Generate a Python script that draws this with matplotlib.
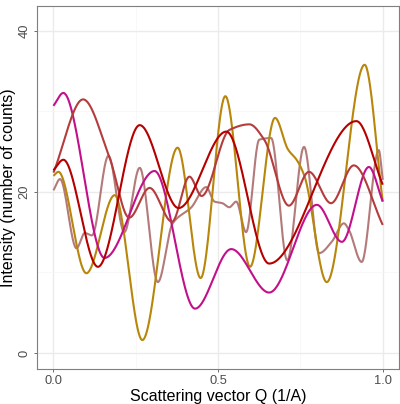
import matplotlib
matplotlib.use("Agg")
import matplotlib.pyplot as plt
import numpy as np

plt.rcParams["font.family"] = ["Liberation Sans", "DejaVu Sans"]

# values (knots of each smooth curve)
gold_x = [0.0, 0.015, 0.10, 0.186, 0.27, 0.377, 0.447, 0.522, 0.597, 0.673, 0.712, 0.74, 0.762, 0.83, 0.945, 1.0]
gold_y = [22.0, 22.5, 9.9, 19.6, 1.6, 25.5, 9.3, 31.9, 10.7, 29.2, 25.3, 23.9, 22.0, 8.8, 35.8, 18.8]

darkred_x = [0.0, 0.03, 0.135, 0.262, 0.38, 0.525, 0.655, 0.92, 1.0]
darkred_y = [22.7, 24.0, 10.7, 28.3, 18.0, 27.5, 11.1, 28.8, 20.9]

brown_x = [0.0, 0.09, 0.17, 0.23, 0.292, 0.36, 0.413, 0.45, 0.534, 0.595, 0.64, 0.715, 0.776, 0.843, 0.912, 1.0]
brown_y = [22.4, 31.5, 24.3, 16.8, 20.5, 16.3, 21.9, 19.5, 27.7, 28.4, 26.5, 18.3, 22.5, 18.6, 23.3, 15.9]

magenta_x = [0.0, 0.03, 0.155, 0.307, 0.43, 0.54, 0.655, 0.80, 0.876, 0.958, 1.0]
magenta_y = [30.7, 32.3, 11.8, 22.6, 5.5, 12.9, 7.5, 18.4, 13.8, 23.1, 18.8]

rosy_x = [0.0, 0.02, 0.07, 0.095, 0.117, 0.167, 0.215, 0.262, 0.317, 0.362, 0.419, 0.464,
          0.489, 0.513, 0.534, 0.555, 0.585, 0.625, 0.661, 0.71, 0.761, 0.807, 0.845,
          0.882, 0.897, 0.936, 0.988, 1.0]
rosy_y = [20.2, 21.6, 13.0, 14.9, 14.6, 24.5, 15.0, 23.0, 8.8, 16.1, 18.1, 20.6,
          18.8, 18.6, 18.1, 18.8, 15.0, 26.5, 26.7, 11.5, 25.6, 12.4, 13.8,
          16.1, 15.3, 11.3, 25.2, 21.5]

series = [
    (rosy_x, rosy_y, "#B47A7A"),
    (gold_x, gold_y, "#B8860B"),
    (magenta_x, magenta_y, "#C2108A"),
    (brown_x, brown_y, "#B43C3C"),
    (darkred_x, darkred_y, "#B50000"),
]


def pchip(x, y, xs):
    # monotone cubic hermite so peaks stay where they were read
    x = np.asarray(x, float)
    y = np.asarray(y, float)
    h = np.diff(x)
    d = np.diff(y) / h
    n = len(x)
    m = np.zeros(n)
    m[0], m[-1] = d[0], d[-1]
    for k in range(1, n - 1):
        if d[k - 1] * d[k] > 0:
            w1 = 2 * h[k] + h[k - 1]
            w2 = h[k] + 2 * h[k - 1]
            m[k] = (w1 + w2) / (w1 / d[k - 1] + w2 / d[k])
    idx = np.clip(np.searchsorted(x, xs) - 1, 0, n - 2)
    t = (xs - x[idx]) / h[idx]
    h00 = 2 * t**3 - 3 * t**2 + 1
    h10 = t**3 - 2 * t**2 + t
    h01 = -2 * t**3 + 3 * t**2
    h11 = t**3 - t**2
    return h00 * y[idx] + h10 * h[idx] * m[idx] + h01 * y[idx + 1] + h11 * h[idx] * m[idx + 1]


fig = plt.figure(figsize=(4.0, 4.04), dpi=100)
ax = fig.add_axes([0.0925, 0.0866, 0.9055, 0.8985])

xs = np.linspace(0, 1, 600)
for sx, sy, col in series:
    ax.plot(xs, pchip(sx, sy, xs), color=col, linewidth=1.5, solid_capstyle="butt")

ax.set_xlim(-0.05, 1.05)
ax.set_ylim(-2.0, 43.1)
ax.set_xticks([0, 0.5, 1.0])
ax.set_xticklabels(["0.0", "0.5", "1.0"])
ax.set_xticks([0.25, 0.75], minor=True)
ax.set_yticks([0, 20, 40])
ax.set_yticklabels(["0", "20", "40"], rotation=90, va="center")
ax.set_yticks([10, 30], minor=True)

ax.grid(which="major", color="#EBEBEB", linewidth=1.0)
ax.grid(which="minor", color="#F5F5F5", linewidth=0.5)
ax.set_axisbelow(True)
for sp in ax.spines.values():
    sp.set_color("#7F7F7F")
    sp.set_linewidth(0.8)

ax.tick_params(which="major", length=2.5, width=0.6, color="#555555",
               labelsize=9.3, labelcolor="#4D4D4D", pad=2)
ax.tick_params(which="minor", length=0)

ax.set_xlabel("Scattering vector Q (1/A)", fontsize=11.5, labelpad=1)
ax.set_ylabel("Intensity (number of counts)", fontsize=11.5, labelpad=2)

fig.savefig("out.png", dpi=100)
